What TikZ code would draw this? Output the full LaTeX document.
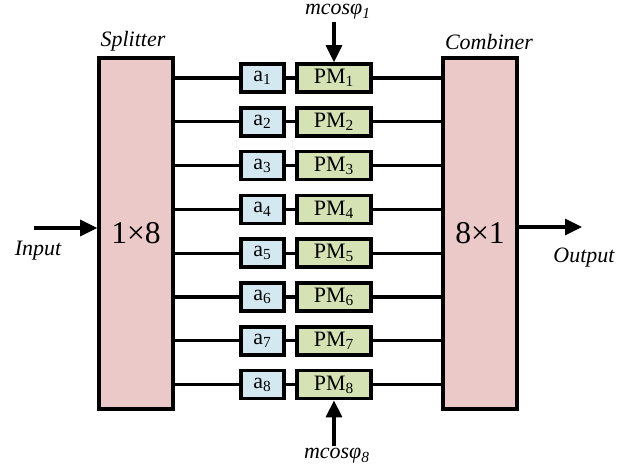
\documentclass[tikz,border=0pt]{standalone}
\usepackage{fontspec}
\setmainfont{Liberation Serif}
\usetikzlibrary{arrows.meta,positioning}
\definecolor{blockpink}{RGB}{236,201,201}
\definecolor{gainblue}{RGB}{212,232,241}
\definecolor{pmgreen}{RGB}{213,226,180}
\tikzset{
  coupler/.style={draw=black,line width=2pt,fill=blockpink,minimum width=1.48cm,minimum height=7.02cm,inner sep=0pt,font=\fontsize{18}{20}\selectfont},
  gainbox/.style={draw=black,line width=2pt,fill=gainblue,minimum width=0.86cm,minimum height=0.56cm,inner sep=0pt,font=\fontsize{12.5}{13}\selectfont},
  pmbox/.style={draw=black,line width=2pt,fill=pmgreen,minimum width=1.48cm,minimum height=0.56cm,inner sep=0pt,font=\fontsize{12.5}{13}\selectfont},
  lbl/.style={font=\fontsize{12.5}{14}\selectfont\itshape,inner sep=1pt},
  wire/.style={line width=1.8pt},
}
\begin{document}
\begin{tikzpicture}[x=0.2mm,y=-0.2mm,>={Triangle[length=3.4mm,width=3.2mm]}]
\useasboundingbox (0,0) rectangle (618,471);
\node[coupler] (split) at (136,233.5) {1×8};
\node[coupler] (comb) at (480,233.5) {8×1};
\node[lbl] (splitlbl) at (133,41) {Splitter};
\node[lbl] (comblbl) at (489,42) {Combiner};
\foreach \i in {1,...,8}{
  \node[gainbox] (a\i) at (262.5,{78+(\i-1)*43.8}) {a\textsubscript{\i}};
  \node[pmbox] (pm\i) at (334,{78+(\i-1)*43.8}) {PM\textsubscript{\i}};
  \draw[wire] (a\i.west -| split.east) -- (a\i.west);
  \draw[wire] (a\i.east) -- (pm\i.west);
  \draw[wire] (pm\i.east) -- (pm\i.east -| comb.west);
}
% inputs and outputs
\coordinate (inp) at (34,228);
\coordinate (outp) at (582,227);
\draw[wire,->] (inp) -- (inp -| split.west);
\draw[wire,->] (outp -| comb.east) -- (outp);
\node[lbl] (inlbl) at (38,251) {Input};
\node[lbl] (outlbl) at (584,258) {Output};
% modulation signals
\node[lbl] (m1) at (338,12) {mcosφ\textsubscript{1}};
\node[lbl] (m8) at (337,456) {mcosφ\textsubscript{8}};
\draw[wire,->] (m1.south -| pm1.north) -- (pm1.north);
\draw[wire,->] (m8.north -| pm8.south) -- (pm8.south);
\end{tikzpicture}
\end{document}
